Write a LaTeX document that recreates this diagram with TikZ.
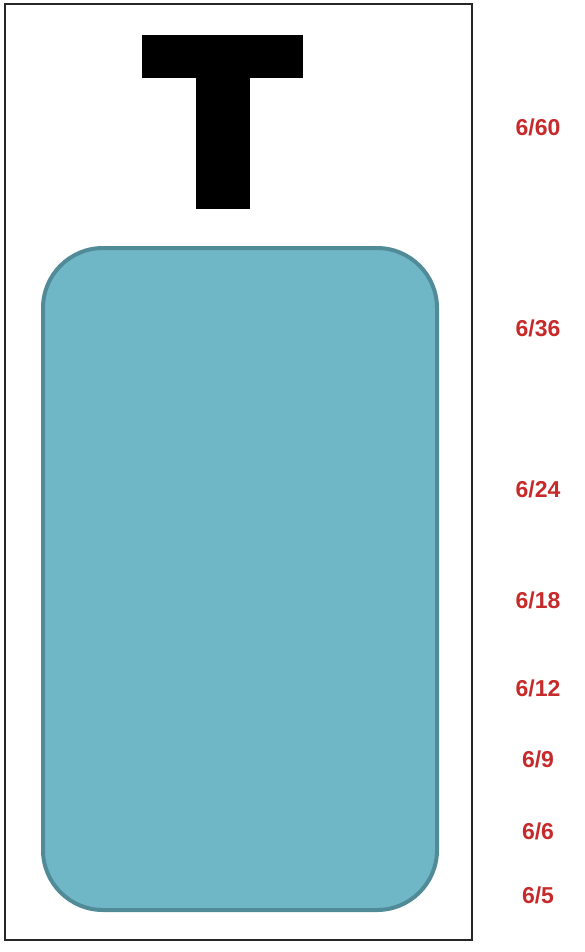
\documentclass[tikz,border=0pt]{standalone}
\usepackage{fontspec}
\setmainfont{Liberation Sans}
\usetikzlibrary{positioning}
\definecolor{acuityred}{HTML}{C62A2A}
\definecolor{cardfill}{HTML}{6FB7C7}
\definecolor{cardedge}{HTML}{518B98}

\begin{document}
\begin{tikzpicture}[x=1pt, y=-1pt,
  acuity/.style={text=acuityred, font=\bfseries\fontsize{23}{23}\selectfont}]
\useasboundingbox (0,0) rectangle (584,952);
% chart frame
\draw[line width=2pt, draw=black!85] (5,4) rectangle (472,940);
% letter T
\fill (142,35) rectangle (303,78);
\fill (196,78) rectangle (250,209);
% occluder card
\draw[line width=4pt, draw=cardedge, fill=cardfill, rounded corners=60pt] (43,248) rectangle (437,910);
% acuity lines
\node[acuity] (a60) at (538,127) {6/60};
\node[acuity] (a36) at (538,328) {6/36};
\node[acuity] (a24) at (538,489) {6/24};
\node[acuity] (a18) at (538,600) {6/18};
\node[acuity] (a12) at (538,688) {6/12};
\node[acuity] (a9) at (538,759) {6/9};
\node[acuity] (a6) at (538,831) {6/6};
\node[acuity] (a5) at (538,895) {6/5};
\end{tikzpicture}
\end{document}
